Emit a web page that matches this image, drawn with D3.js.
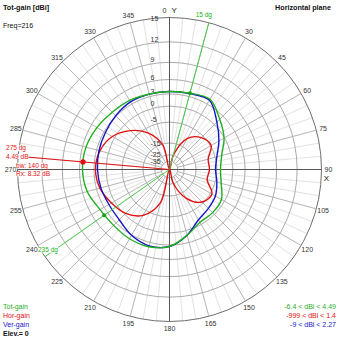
<!DOCTYPE html>
<html><head><meta charset="utf-8">
<script src="https://cdn.jsdelivr.net/npm/d3@7"></script>
<style>
body{margin:0;background:#fff}
svg{display:block}
text{font-family:"Liberation Sans",Arial,sans-serif}
</style>
</head><body>
<svg id="c" width="339" height="339"></svg>
<script>
// ---- data (azimuth in degrees, gain in dBi) ----
const angles   = [0,15,30,45,60,75,90,105,120,135,150,165,180,195,210,225,240,255,270,285,300,315,330,345];
const totGain  = [3.55,3.77,4.2,1.94,-0.12,-2.76,-3.74,-2.92,-0.96,-0.67,-0.67,1.2,3.33,3.98,3.98,3.77,4.02,5.06,5.42,5.31,4.78,4.18,3.92,3.59];
const verGain  = [3.55,3.66,3.98,0.94,-1.83,-4.43,-5.51,-4.43,-3.08,-2.45,-1.53,1.2,3.33,3.77,3.1,1.94,1.69,1.94,2.18,2.41,2.65,3.1,3.55,3.55];
const horGain  = [-999,-24.7,-9.72,-5.89,-4.78,-7.91,-7.91,-8.35,-4.43,-5.51,-11.21,-25.93,-999,-10.7,-3.08,-0.39,0.94,2.18,2.65,2.18,0.68,-2.45,-7.07,-15.98];
const ringValues  = [15,12,9,6,3,0,-5,-15,-25,-35];
const angleTicks  = d3.range(0,360,15);
const beamAngles  = [15,235];
const maxAngle    = 275;
const legendNames = ["Tot-gain","Hor-gain","Ver-gain"];
const legendRanges= ["-6.4 < dBi < 4.49","-999 < dBi < 1.4","-9 < dBi < 2.27"];
const markerTexts = ["275 dg","4.49 dB","bw: 140 dg","Rx: 8.32 dB"];

// ---- layout ----
const cx=169.5,cy=169.5,R=152;
const cGreen="#1fae1f",cRed="#e01010",cBlue="#1414c8";
const svg=d3.select("#c");

// ARRL-style log scale: radius ~ (linear power)^0.253
const pw = d3.scalePow().exponent(0.253).domain([0,Math.pow(10,1.5)]).range([0,R]);
const rad = d => pw(Math.pow(10,d/10));
const ang = d3.scaleLinear().domain([0,360]).range([0,2*Math.PI]);
const pt = (a,r)=>[cx+r*Math.sin(ang(a)), cy-r*Math.cos(ang(a))];

const g=svg.append("g");
// minor spokes
d3.range(0,360,5).filter(a=>a%15!==0).forEach(a=>{
  const p0=pt(a,rad(-15)),p1=pt(a,R);
  g.append("line").attr("x1",p0[0]).attr("y1",p0[1]).attr("x2",p1[0]).attr("y2",p1[1])
   .attr("stroke","#e2e2e2").attr("stroke-width",1);
});
// rings
ringValues.forEach((v,i)=>{
  g.append("circle").attr("cx",cx).attr("cy",cy).attr("r",rad(v)).attr("fill","none")
   .attr("stroke", i===0?"#6e6e6e":"#ababab").attr("stroke-width",1);
});
// major spokes
angleTicks.filter(a=>a%90!==0).forEach(a=>{
  const p0=pt(a,rad(-35)),p1=pt(a,R);
  g.append("line").attr("x1",p0[0]).attr("y1",p0[1]).attr("x2",p1[0]).attr("y2",p1[1])
   .attr("stroke","#b4b4b4").attr("stroke-width",1);
});
// axes
[0,90].forEach(a=>{
  const p0=pt(a,R),p1=pt(a+180,R);
  g.append("line").attr("x1",p0[0]).attr("y1",p0[1]).attr("x2",p1[0]).attr("y2",p1[1])
   .attr("stroke","#555").attr("stroke-width",1);
});

// angle labels
angleTicks.filter(a=>a!==0 && a!==15).forEach(a=>{
  const p=pt(a,159);
  g.append("text").attr("x",p[0]).attr("y",p[1]).attr("text-anchor","middle")
   .attr("dominant-baseline","central").attr("font-size",7).attr("fill","#333").text(a);
});
{ const p=pt(0,159);
  g.append("text").attr("x",p[0]-3).attr("y",p[1]).attr("text-anchor","end").attr("dominant-baseline","central").attr("font-size",7).attr("fill","#333").text("0");
  g.append("text").attr("x",p[0]+2).attr("y",p[1]).attr("text-anchor","start").attr("dominant-baseline","central").attr("font-size",8).attr("fill","#111").text("Y");
  const q=pt(90,157);
  g.append("text").attr("x",q[0]).attr("y",q[1]+9).attr("text-anchor","middle").attr("dominant-baseline","central").attr("font-size",8).attr("fill","#111").text("X");
}
// ring labels
ringValues.forEach(v=>{
  const off = v===15 ? 1 : (v<=-15 ? 0 : -2.5);
  g.append("text").attr("x",cx-19).attr("y",cy-rad(v)+off).attr("text-anchor","start")
   .attr("dominant-baseline","central").attr("font-size",7).attr("fill","#333").text(v);
});

// traces
const line=d3.lineRadial().angle(d=>ang(d[0])).radius(d=>rad(d[1])).curve(d3.curveCatmullRomClosed.alpha(0.5));
const tg=svg.append("g").attr("transform",`translate(${cx},${cy})`);
const series=[[horGain,cRed],[verGain,cBlue],[totGain,cGreen]];
series.forEach(([vals,col])=>{
  tg.append("path").datum(angles.map((a,i)=>[a,vals[i]])).attr("d",line)
    .attr("fill","none").attr("stroke",col).attr("stroke-width",1.4);
});

// value interpolation on Tot trace
function totAt(a){
  const i=Math.floor(a/15)%angles.length, j=(i+1)%angles.length, t=(a-angles[i])/15;
  return totGain[i]*(1-t)+totGain[j]*t;
}
// beamwidth lines
beamAngles.forEach(a=>{
  const p=pt(a,R);
  svg.append("line").attr("x1",cx).attr("y1",cy).attr("x2",p[0]).attr("y2",p[1]).attr("stroke","#4ccc4c").attr("stroke-width",1);
  const d=pt(a,rad(totAt(a)));
  svg.append("circle").attr("cx",d[0]).attr("cy",d[1]).attr("r",2).attr("fill","#17a017");
});
// max line
{ const p=pt(maxAngle,R);
  svg.append("line").attr("x1",cx).attr("y1",cy).attr("x2",p[0]).attr("y2",p[1]).attr("stroke",cRed).attr("stroke-width",1);
  const d=pt(maxAngle,rad(totAt(maxAngle)));
  svg.append("circle").attr("cx",d[0]).attr("cy",d[1]).attr("r",2.6).attr("fill",cRed);
}
function bgText(x,y,txt,col,anchor){
  const t=svg.append("text").attr("x",x).attr("y",y).attr("text-anchor",anchor||"start").attr("font-size",6.5).attr("fill",col).text(txt);
  const b=t.node().getBBox();
  svg.insert("rect",()=>t.node()).attr("x",b.x).attr("y",b.y+1).attr("width",b.width).attr("height",b.height-2).attr("fill","#fff");
}
{ const e1=pt(15,R); bgText(e1[0]-5,e1[1]-6,"15 dg","#20b020","middle");
  const e2=pt(235,R); bgText(e2[0]-7,e2[1]-5,"235 dg","#20b020","start");
  const e3=pt(maxAngle,R);
  markerTexts.forEach((t,i)=>bgText(e3[0]-12+(i>=2?10:0),e3[1]-6+i*8.7,t,cRed,"start"));
}

// titles
svg.append("text").attr("x",3).attr("y",10).attr("font-size",7.2).attr("font-weight","bold").attr("fill","#111").text("Tot-gain [dBi]");
svg.append("text").attr("x",3).attr("y",28).attr("font-size",7).attr("fill","#111").text("Freq=216");
svg.append("text").attr("x",331).attr("y",10).attr("font-size",7.2).attr("font-weight","bold").attr("text-anchor","end").attr("fill","#111").text("Horizontal plane");

// legend
const lc=[cGreen,cRed,cBlue];
legendNames.forEach((n,i)=>{
  svg.append("text").attr("x",3).attr("y",309+i*9).attr("font-size",7).attr("fill",lc[i]).text(n);
  svg.append("text").attr("x",336).attr("y",309+i*9).attr("font-size",7).attr("text-anchor","end").attr("fill",lc[i]).text(legendRanges[i]);
});
svg.append("text").attr("x",3).attr("y",336).attr("font-size",7).attr("font-weight","bold").attr("fill","#111").text("Elev.= 0");
</script>
</body></html>
